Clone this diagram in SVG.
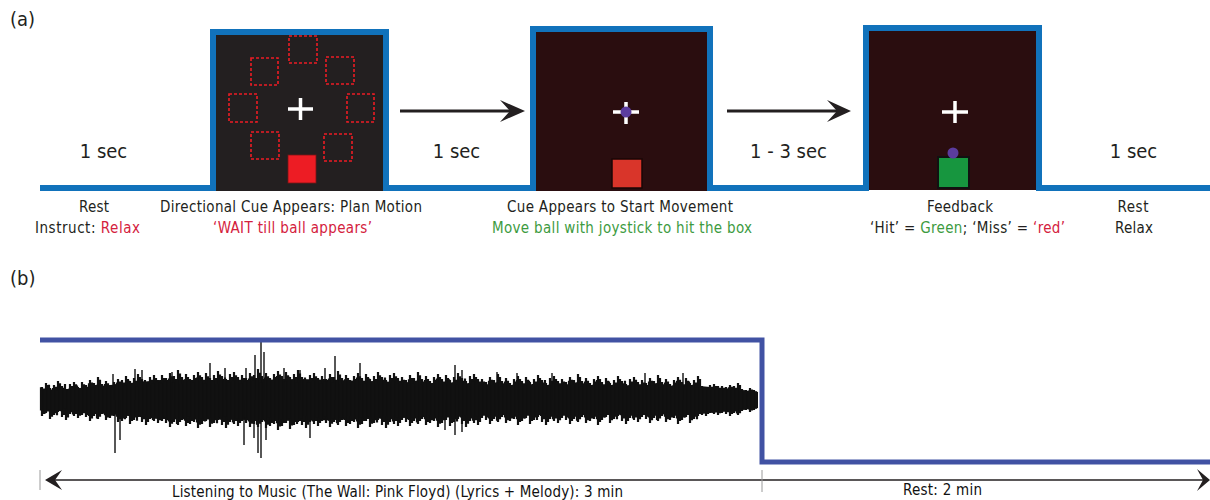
<svg xmlns="http://www.w3.org/2000/svg" xmlns:xlink="http://www.w3.org/1999/xlink" width="1210" height="500" viewBox="0 0 1210 500">
<style>
text{font-family:"DejaVu Sans Condensed","DejaVu Sans",sans-serif;fill:#231f20}
.lab{font-size:15px;text-anchor:middle}
.dur{font-size:20px;text-anchor:middle}
.pl{font-size:20px}
.red{fill:#d4213d}
.grn{fill:#3d9b3f}
.blab{font-size:15px;text-anchor:middle;fill:#111}
.dash{fill:none;stroke:#ed1c24;stroke-width:1.6;stroke-dasharray:3 2}
.cross{stroke:#fff;stroke-width:3.5;fill:none}
.ball{fill:#5b3c9e}
.arr{stroke:#231f20;stroke-width:3;fill:none}
.ahead{fill:#231f20}
</style>

<text class="pl" x="10" y="26">(a)</text>
<text class="pl" x="10" y="285">(b)</text>

<g id="panel-cue">
<rect x="213" y="32" width="173" height="159" fill="#231f20"/>
<rect class="dash" x="289" y="36" width="28" height="27"/>
<rect class="dash" x="251" y="58" width="27" height="27"/>
<rect class="dash" x="326" y="57" width="28" height="27"/>
<rect class="dash" x="229" y="94" width="28" height="28"/>
<rect class="dash" x="347" y="94" width="27" height="28"/>
<rect class="dash" x="251" y="132" width="28" height="27"/>
<rect class="dash" x="324" y="134" width="28" height="27"/>
<rect x="288" y="155" width="28" height="28" fill="#ed1c24" stroke="#7a1515" stroke-width="0.8"/>
<path class="cross" d="M288 109H313M300.5 98V120"/>
</g>

<g id="panel-start">
<rect x="533" y="29" width="177" height="162" fill="#2a0d0f"/>
<path class="cross" d="M613 112H639M626 102V124" stroke-width="3"/>
<circle class="ball" cx="626" cy="112" r="5.5"/>
<rect x="612" y="159" width="30" height="29" fill="#d9352a" stroke="#1a0606" stroke-width="1.5"/>
</g>

<g id="panel-feedback">
<rect x="866" y="28" width="173" height="162" fill="#2a0d0f"/>
<path class="cross" d="M942 112H968M955 101V123" stroke-width="3"/>
<rect x="938" y="157" width="31" height="31" fill="#17963f" stroke="#111" stroke-width="2"/>
<circle class="ball" cx="953" cy="153" r="5.5"/>
</g>

<g id="timeline-a">
<path d="M40 188H213V32H386V188H533V29H710V188H866V28H1039V188H1210" fill="none" stroke="#1172bb" stroke-width="6" stroke-linejoin="miter"/>
</g>

<g id="connectors">
<path class="arr" d="M400 111H512"/>
<polygon class="ahead" points="525,111 500,100 510,111 500,122"/>
<path class="arr" d="M727 111H838"/>
<polygon class="ahead" points="851,111 827,100 837,111 827,122"/>
</g>

<g id="durations">
<text class="dur" x="103.5" y="158">1 sec</text>
<text class="dur" x="456.5" y="158">1 sec</text>
<text class="dur" x="788.5" y="158">1 - 3 sec</text>
<text class="dur" x="1133.5" y="158">1 sec</text>
</g>

<g id="labels-a">
<text class="lab" x="94" y="212" textLength="30">Rest</text>
<text class="lab" x="87.5" y="233" textLength="105">Instruct: <tspan class="red">Relax</tspan></text>
<text class="lab" x="291" y="212" textLength="262">Directional Cue Appears: Plan Motion</text>
<text class="lab red" x="292.5" y="233" textLength="159">‘WAIT till ball appears’</text>
<text class="lab" x="620" y="212" textLength="226">Cue Appears to Start Movement</text>
<text class="lab grn" x="622" y="233" textLength="260">Move ball with joystick to hit the box</text>
<text class="lab" x="960" y="212" textLength="66">Feedback</text>
<text class="lab" x="967.5" y="233" textLength="195">‘Hit’ = <tspan class="grn">Green</tspan>; ‘Miss’ = <tspan class="red">‘red’</tspan></text>
<text class="lab" x="1133" y="212" textLength="31">Rest</text>
<text class="lab" x="1134" y="233" textLength="38">Relax</text>
</g>

<defs>
<path id="wv" fill="none" stroke-width="2.2" d="M42 387V416M46 383V413M50 388V419M54 385V415M58 381V412M62 386V417M66 389V420M70 384V414M74 382V416M78 387V418M82 382V415M86 385V417M90 380V421M94 383V416M98 377V419M102 384V414M106 381V420M110 386V418M114 382V416M118 379V422M122 380V421M126 376V418M130 381V424M134 378V420M138 374V417M142 379V422M146 382V425M150 377V419M154 375V421M158 380V423M162 375V421M166 378V423M170 373V427M174 376V422M178 370V425M182 377V420M186 374V426M190 379V424M194 375V422M198 372V428M202 377V424M206 373V421M210 378V427M214 375V423M218 371V420M222 376V425M226 379V428M230 374V422M234 372V424M238 377V426M242 375V421M246 378V423M250 373V427M254 375V424M258 369V427M262 376V422M266 373V428M270 378V426M274 374V424M278 371V430M282 376V426M286 372V423M290 377V429M294 374V425M298 370V422M302 377V425M306 380V428M310 375V422M314 373V424M318 378V426M322 376V421M326 379V423M330 374V427M334 377V422M338 371V425M342 378V420M346 375V426M350 380V424M354 376V422M358 373V428M362 378V424M366 374V421M370 379V427M374 376V423M378 372V420M382 377V425M386 380V428M390 375V422M394 373V424M398 378V426M402 377V420M406 380V422M410 375V426M414 378V421M418 372V424M422 379V419M426 376V425M430 381V423M434 377V421M438 374V427M442 379V423M446 375V420M450 380V426M454 377V422M458 373V419M462 378V424M466 381V427M470 376V421M474 374V423M478 379V425M482 379V418M486 382V420M490 377V424M494 380V419M498 374V422M502 381V417M506 378V423M510 383V421M514 379V419M518 376V425M522 381V421M526 377V418M530 382V424M534 379V420M538 375V417M542 380V422M546 383V425M550 378V419M554 376V421M558 381V423M562 379V418M566 382V420M570 377V424M574 380V419M578 374V422M582 381V417M586 378V423M590 383V421M594 379V419M598 376V425M602 382V420M606 378V417M610 383V423M614 380V419M618 376V416M622 381V421M626 384V424M630 379V418M634 377V420M638 382V422M642 380V417M646 383V419M650 378V423M654 381V418M658 375V421M662 382V416M666 379V422M670 384V420M674 380V418M678 377V424M682 382V420M686 378V417M690 383V423M694 380V419M698 376V416M702 386V415M706 387V416M710 385V413M714 384V414M718 386V415M722 386V413M726 387V414M730 385V416M734 386V413M738 383V415M742 389V411M746 390V410M750 388V412M754 390V410"/>
</defs>

<g id="waveform" fill="#111" stroke="#111">
<path stroke="none" d="M41 391L80 388L120 384L160 380L250 380L300 379L400 382L480 385L600 385L700 386L740 390L758 392V408L740 410L700 414L600 415L480 415L400 418L300 421L250 420L160 419L120 415L80 412L41 410Z"/>
<use xlink:href="#wv" href="#wv"/>
<use xlink:href="#wv" href="#wv" transform="translate(2,400) scale(1,0.88) translate(0,-400)"/>
<use xlink:href="#wv" href="#wv" transform="translate(-1,400) scale(1,-0.8) translate(0,-400)" stroke-width="1"/>
<path fill="none" stroke-width="1.4" d="M113 374V400M135 369V400M142 370V400M172 372V400M210 363V400M225 368V400M246 368V400M255 355V400M261 342V400M264 352V400M284 368V400M300 370V400M325 368V400M335 356V400M360 363V400M455 365V400M462 370V400M497 372V400M517 373V400M552 373V400M645 373V400M683 373V400M115 400V453M120 400V440M244 400V445M254 400V438M258 400V453M261 400V458M266 400V440M310 400V438M445 400V430M455 400V435M462 400V432"/>
</g>

<g id="timeline-b">
<path d="M40 340H762V462H1210" fill="none" stroke="#4152a3" stroke-width="5" stroke-linejoin="miter"/>
</g>

<g id="time-axis">
<path d="M50 480H1204" stroke="#231f20" stroke-width="1.5" fill="none"/>
<polygon class="ahead" points="45,480 62,470 55,480 62,490"/>
<polygon class="ahead" points="1210,480 1197,469 1203,480 1197,491"/>
<path d="M40 470V490M762 470V492" stroke="#9a9a9a" stroke-width="1"/>
</g>

<g id="labels-b">
<text class="blab" x="397.5" y="497" textLength="451">Listening to Music (The Wall: Pink Floyd) (Lyrics + Melody): 3 min</text>
<text class="blab" x="942.5" y="495" textLength="79">Rest: 2 min</text>
</g>
</svg>
